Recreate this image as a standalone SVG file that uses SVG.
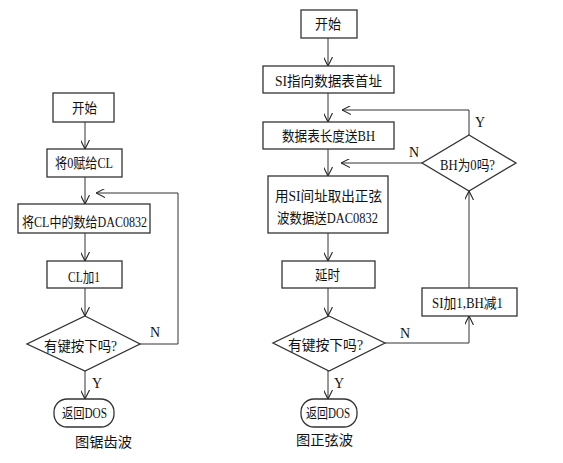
<svg xmlns="http://www.w3.org/2000/svg" width="563" height="463" viewBox="0 0 563 463">
<defs>
<marker id="arr" viewBox="0 0 10 10" refX="10" refY="5" markerWidth="9" markerHeight="9" markerUnits="userSpaceOnUse" orient="auto">
<path d="M0,0 L10,5 L0,10" fill="none" stroke="#222" stroke-width="1.2"/>
</marker>
<style>
.box{fill:#fff;stroke:#333;stroke-width:1.3}
.ln{fill:none;stroke:#333;stroke-width:1}
.t{font-family:"Liberation Serif","Noto Sans CJK SC",serif;font-size:14px;fill:#111}
</style>
</defs>
<rect width="563" height="463" fill="#fff"/>
<g id="connectors">
<path class="ln" d="M85,122 V149" marker-end="url(#arr)"/>
<path class="ln" d="M85,177 V204" marker-end="url(#arr)"/>
<path class="ln" d="M85,233 V261" marker-end="url(#arr)"/>
<path class="ln" d="M85,288 V316" marker-end="url(#arr)"/>
<path class="ln" d="M85,371 V399" marker-end="url(#arr)"/>
<path class="ln" d="M140,344 H178 V193 H96" marker-end="url(#arr)"/>
<path class="ln" d="M328,38 V66" marker-end="url(#arr)"/>
<path class="ln" d="M328,93 V122" marker-end="url(#arr)"/>
<path class="ln" d="M469,135 V110 H342" marker-end="url(#arr)"/>
<path class="ln" d="M422,163 H341" marker-end="url(#arr)"/>
<path class="ln" d="M328,149 V176" marker-end="url(#arr)"/>
<path class="ln" d="M328,233 V261" marker-end="url(#arr)"/>
<path class="ln" d="M328,288 V316" marker-end="url(#arr)"/>
<path class="ln" d="M328,371 V399" marker-end="url(#arr)"/>
<path class="ln" d="M385,343 H469 V316" marker-end="url(#arr)"/>
<path class="ln" d="M469,288 V191" marker-end="url(#arr)"/>
<text class="t" x="150" y="337">N</text>
<text class="t" x="92" y="388">Y</text>
<text class="t" x="409" y="157">N</text>
<text class="t" x="475" y="127">Y</text>
<text class="t" x="400" y="338">N</text>
<text class="t" x="334" y="388">Y</text>
</g>
<g id="l_start"><rect class="box" x="53" y="93" width="61" height="29"/><text class="t" x="72" y="113" textLength="25" lengthAdjust="spacingAndGlyphs">开始</text></g>
<g id="l_init"><rect class="box" x="47" y="149" width="75" height="28"/><text class="t" x="55" y="168" textLength="58" lengthAdjust="spacingAndGlyphs">将0赋给CL</text></g>
<g id="l_out"><rect class="box" x="18" y="204" width="132" height="29"/><text class="t" x="22" y="227" textLength="125" lengthAdjust="spacingAndGlyphs">将CL中的数给DAC0832</text></g>
<g id="l_inc"><rect class="box" x="47" y="261" width="75" height="27"/><text class="t" x="68" y="282" textLength="32" lengthAdjust="spacingAndGlyphs">CL加1</text></g>
<g id="l_key"><polygon class="box" points="85,316 140,344 85,371 27,344"/><text class="t" x="44" y="351" textLength="73" lengthAdjust="spacingAndGlyphs">有键按下吗?</text></g>
<g id="l_end"><rect class="box" x="54" y="399" width="60" height="28" rx="13"/><text class="t" x="62" y="418" textLength="45" lengthAdjust="spacingAndGlyphs">返回DOS</text></g>
<text class="t" x="75" y="447" textLength="57" lengthAdjust="spacingAndGlyphs">图锯齿波</text>
<g id="r_start"><rect class="box" x="301" y="10" width="56" height="28"/><text class="t" x="315" y="29" textLength="26" lengthAdjust="spacingAndGlyphs">开始</text></g>
<g id="r_si"><rect class="box" x="263" y="66" width="131" height="27"/><text class="t" x="275" y="86" textLength="107" lengthAdjust="spacingAndGlyphs">SI指向数据表首址</text></g>
<g id="r_bh"><rect class="box" x="263" y="122" width="131" height="27"/><text class="t" x="282" y="141" textLength="93" lengthAdjust="spacingAndGlyphs">数据表长度送BH</text></g>
<g id="r_bh0"><polygon class="box" points="469,135 516,163 469,191 422,163"/><text class="t" x="440" y="170" textLength="55" lengthAdjust="spacingAndGlyphs">BH为0吗?</text></g>
<g id="r_out"><rect class="box" x="268" y="176" width="120" height="57"/><text class="t" x="275" y="201" textLength="107" lengthAdjust="spacingAndGlyphs">用SI间址取出正弦</text><text class="t" x="277" y="223" textLength="101" lengthAdjust="spacingAndGlyphs">波数据送DAC0832</text></g>
<g id="r_delay"><rect class="box" x="282" y="261" width="93" height="27"/><text class="t" x="315" y="280" textLength="25" lengthAdjust="spacingAndGlyphs">延时</text></g>
<g id="r_inc"><rect class="box" x="422" y="288" width="95" height="28"/><text class="t" x="432" y="308" textLength="71" lengthAdjust="spacingAndGlyphs">SI加1,BH减1</text></g>
<g id="r_key"><polygon class="box" points="329,316 385,343 329,371 273,343"/><text class="t" x="288" y="350" textLength="75" lengthAdjust="spacingAndGlyphs">有键按下吗?</text></g>
<g id="r_end"><rect class="box" x="301" y="399" width="56" height="28" rx="13"/><text class="t" x="306" y="418" textLength="44" lengthAdjust="spacingAndGlyphs">返回DOS</text></g>
<text class="t" x="296" y="445" textLength="57" lengthAdjust="spacingAndGlyphs">图正弦波</text>
</svg>
